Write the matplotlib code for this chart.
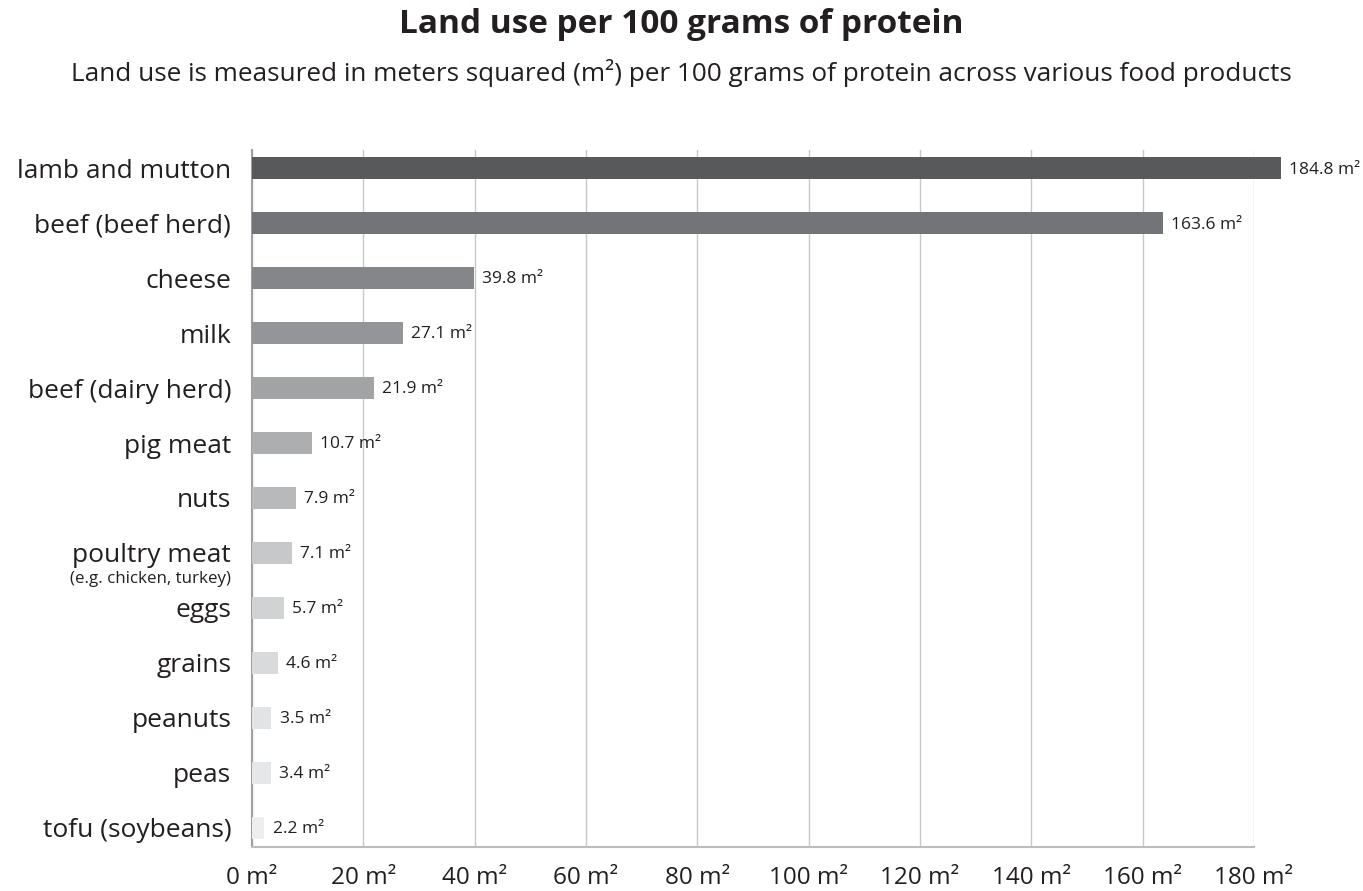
import matplotlib
matplotlib.use("Agg")
import matplotlib.pyplot as plt

plt.rcParams['font.family'] = ['Open Sans', 'DejaVu Sans']

categories = ["lamb and mutton", "beef (beef herd)", "cheese", "milk", "beef (dairy herd)",
              "pig meat", "nuts", "poultry meat", "eggs", "grains", "peanuts", "peas",
              "tofu (soybeans)"]
values = [184.8, 163.6, 39.8, 27.1, 21.9, 10.7, 7.9, 7.1, 5.7, 4.6, 3.5, 3.4, 2.2]
bar_colors = ["#58595b", "#737477", "#858689", "#949598", "#a2a3a5", "#adaeb0", "#b8b9bb",
              "#c7c8ca", "#d1d2d4", "#d9dadc", "#e2e3e4", "#e6e7e8", "#eeeeef"]
xticks = [0, 20, 40, 60, 80, 100, 120, 140, 160, 180]
xtick_labels = [f"{t} m²" for t in xticks]
poultry_note = "(e.g. chicken, turkey)"

TEXT = "#231f20"

fig = plt.figure(figsize=(13.63, 8.91), dpi=100)
ax = fig.add_axes([252 / 1363, 0.0494, (1254 - 252) / 1363, 0.8316 - 0.0494])

ypos = list(range(len(categories)))
ax.barh(ypos, values, height=0.4, color=bar_colors, clip_on=False, zorder=3)

for y, v in zip(ypos, values):
    ax.annotate(f"{v} m²", xy=(v, y), xytext=(6, -1), textcoords="offset points",
                va="center", ha="left", fontsize=12.5, color=TEXT, annotation_clip=False)

ax.set_xlim(0, 180)
ax.set_ylim(12.35, -0.33)
ax.set_xticks(xticks)
ax.set_xticklabels(xtick_labels, fontsize=17.5, color=TEXT)
ax.set_yticks(ypos)
ax.set_yticklabels(categories, fontsize=19, color=TEXT)
ax.tick_params(axis='both', length=0)
ax.tick_params(axis='y', pad=15)
ax.tick_params(axis='x', pad=14)

ax.grid(axis='x', color="#c8c8c8", linewidth=1.0, zorder=0)
ax.set_axisbelow(True)
for s in ["top", "right"]:
    ax.spines[s].set_visible(False)
ax.spines["left"].set_color("#a0a0a0")
ax.spines["left"].set_linewidth(1.5)
ax.spines["bottom"].set_color("#bcbcbc")
ax.spines["bottom"].set_linewidth(1.5)

# poultry sub-note
idx = categories.index("poultry meat")
ax.annotate(poultry_note, xy=(0, idx), xycoords="data", xytext=(-15, -19),
            textcoords="offset points", ha="right", va="center", fontsize=12.2,
            color=TEXT, annotation_clip=False)

fig.text(0.5, 0.972, "Land use per 100 grams of protein", ha="center", va="center",
         fontsize=24, fontweight="bold", color=TEXT)
fig.text(0.5, 0.918, "Land use is measured in meters squared (m²) per 100 grams of protein across various food products",
         ha="center", va="center", fontsize=18.8, color=TEXT)

fig.savefig("out.png", dpi=100)
